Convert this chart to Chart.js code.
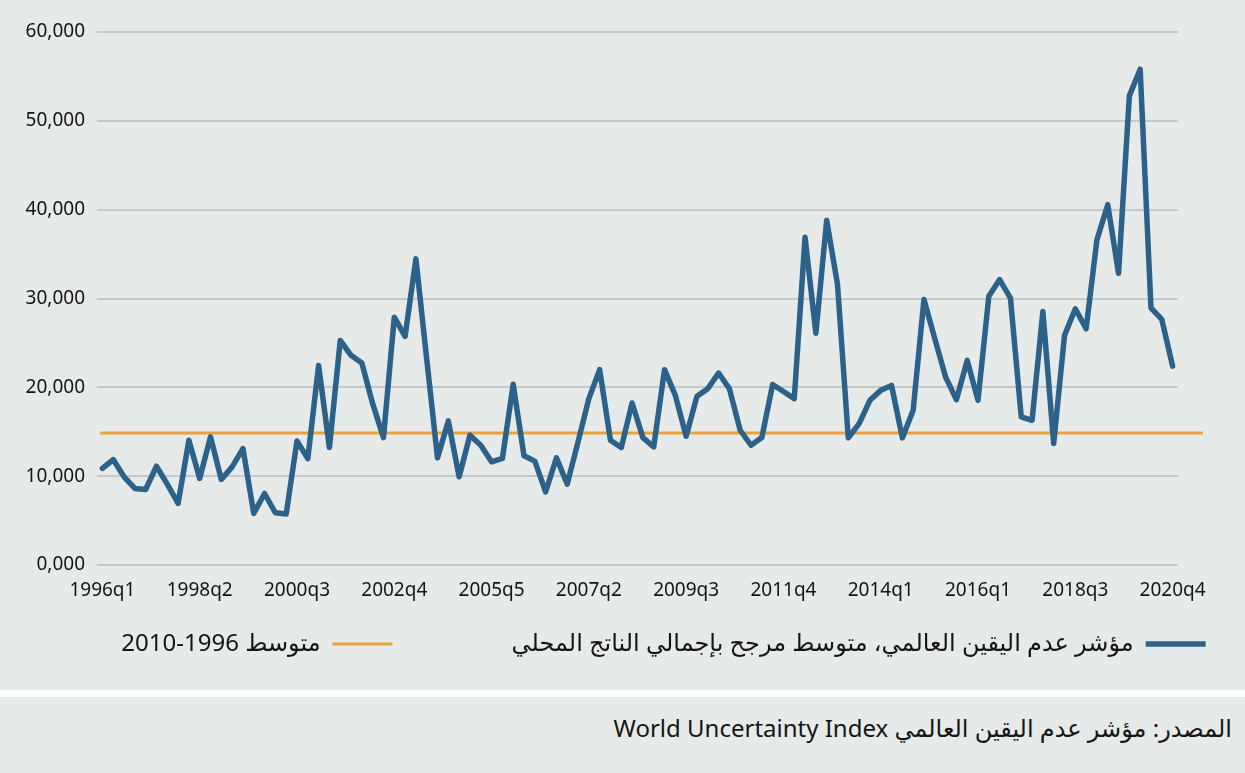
<!DOCTYPE html>
<html>
<head>
<meta charset="utf-8">
<script src="https://cdn.jsdelivr.net/npm/chart.js@4/dist/chart.umd.min.js"></script>
<style>
  html,body{margin:0;padding:0;background:#ffffff;}
  body{width:1245px;height:773px;overflow:hidden;font-family:'Noto Sans','DejaVu Sans',sans-serif;}
  #chartBox{position:absolute;left:0;top:0;width:1245px;height:690px;background:#e6eae9;}
  #source{position:absolute;left:0;top:697px;width:1245px;height:76px;background:#e6eae9;
    direction:rtl;text-align:right;box-sizing:border-box;padding-right:13px;
    font-size:24px;line-height:62px;color:#151515;}
</style>
</head>
<body>
<div id="chartBox"><canvas id="wui"></canvas></div>
<div id="source">المصدر: مؤشر عدم اليقين العالمي World Uncertainty Index</div>
<script>
// quarterly categories 1996q1 .. 2020q4
const quarters = [];
for(let y=1996;y<=2020;y++) for(let q=1;q<=4;q++) quarters.push(y+'q'+q);

// labels as printed under the axis (every 9th quarter)
const tickLabels = ['1996q1','1998q2','2000q3','2002q4','2005q5','2007q2','2009q3','2011q4','2014q1','2016q1','2018q3','2020q4'];
const tickEvery  = 9;

// World Uncertainty Index, GDP weighted average
const wuiValues = [
  10870,11870, 9930, 8620, 8500,11120, 9100, 6930,14040, 9740,
  14420, 9630,11050,13110, 5810, 8050, 5880, 5730,13970,11980,
  22470,13220,25280,23600,22730,18160,14340,27900,25730,34460,
  23200,12060,16220, 9930,14610,13480,11610,11990,20340,12300,
  11690, 8240,12060, 9100,13860,18730,21990,14040,13220,18240,
  14340,13300,21990,19100,14490,18990,19850,21610,19850,15170,
  13480,14340,20320,19530,18730,36900,26100,38820,31600,14310,
  15920,18540,19660,20220,14310,17420,29890,25500,21160,18610,
  23030,18540,30260,32130,30040,16670,16290,28540,13670,25840,
  28840,26590,36600,40560,32840,52810,55810,28950,27640,22390
];

// 1996-2010 average, drawn from just before the first quarter to past the last one
const avgValue = 14850;
const avgSpan  = [-0.2, 101.8];   // in quarter index units

const seriesNames = ['مؤشر عدم اليقين العالمي، متوسط مرجح بإجمالي الناتج المحلي','متوسط 1996-2010'];

const FONT = "'Noto Sans','DejaVu Sans',sans-serif";
const TXT  = '#151515';
const LEG_H = 80, LEG_PAD = 119, LEG_SHIFT = 97, LEG_CENTER = 663.5;

// fixed legend height, no wrapping, nudged up under the axis labels
const legendPlace = {
  id:'legendPlace',
  beforeLayout(chart){
    const lg=chart.legend;
    if(lg && !lg._fixed){
      const f=lg.fit;
      lg.fit=function(){ this.maxWidth=3000; f.call(this); this.height=LEG_H; };
      lg._fixed=true;
    }
  },
  afterLayout(chart){
    const lg=chart.legend; if(!lg) return;
    // legend draw clips to its box, so grow the box upward instead of moving it
    lg.top-=LEG_SHIFT; lg.height=lg.bottom-lg.top;
    lg.left=-100; lg.right=LEG_CENTER*2+100; lg.width=lg.right-lg.left;
  }
};

new Chart(document.getElementById('wui'),{
  type:'line',
  plugins:[legendPlace],
  data:{
    labels:quarters,
    datasets:[
      {label:seriesNames[0],data:wuiValues,borderColor:'#2c6189',backgroundColor:'#2c6189',
       borderWidth:5.5,pointRadius:0,tension:0,borderJoinStyle:'round',borderCapStyle:'round'},
      {label:seriesNames[1],xAxisID:'xAvg',clip:false,
       data:avgSpan.map(x=>({x:x,y:avgValue})),borderColor:'#e8a33c',backgroundColor:'#e8a33c',
       borderWidth:3,pointRadius:0,tension:0,borderCapStyle:'butt'}
    ]
  },
  options:{
    responsive:true,maintainAspectRatio:false,animation:false,
    layout:{padding:{top:32,right:67,left:0,bottom:0}},
    plugins:{
      tooltip:{enabled:false},
      legend:{
        position:'bottom',rtl:true,textDirection:'rtl',
        labels:{usePointStyle:true,pointStyle:'line',pointStyleWidth:60,padding:LEG_PAD,
                color:TXT,font:{family:FONT,size:24}}
      }
    },
    scales:{
      x:{
        offset:true,
        grid:{display:false},border:{display:false},
        afterFit:s=>{s.height=45;},
        ticks:{autoSkip:false,maxRotation:0,padding:6,color:TXT,font:{family:FONT,size:19},
               callback:(v,i)=> i%tickEvery===0 ? tickLabels[i/tickEvery] : null}
      },
      xAvg:{type:'linear',display:false,min:-0.5,max:quarters.length-0.5},
      y:{
        min:0,max:60000,
        afterFit:s=>{s.width=97;},
        grid:{color:'#c6c9c9',lineWidth:2,drawTicks:false},border:{display:false},
        ticks:{stepSize:10000,padding:12,color:TXT,font:{family:FONT,size:19},
               callback:v=> v===0 ? '0,000' : v.toLocaleString('en-US')}
      }
    }
  }
});
</script>
</body>
</html>
